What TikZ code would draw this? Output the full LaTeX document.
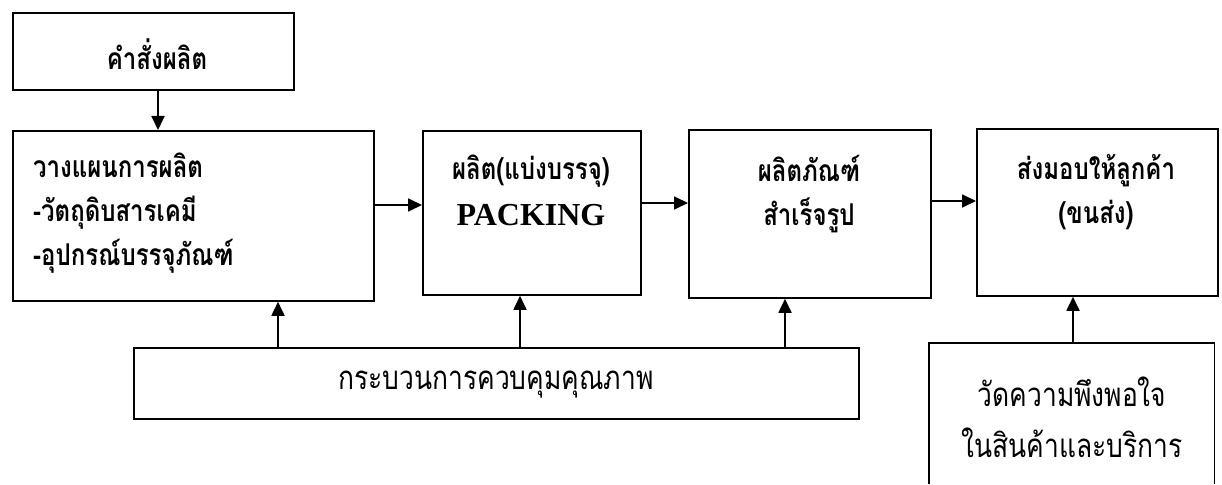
\documentclass[tikz,border=0pt]{standalone}
\usepackage{fontspec}
\newfontfamily\thai[Script=Thai, FakeStretch=0.8]{Loma}
\newfontfamily\tnr{Liberation Serif}
\usetikzlibrary{arrows.meta}
\tikzset{
  box/.style={draw, line width=1.8pt, inner sep=0pt, anchor=north west},
  tb/.style={inner sep=0pt, font=\thai\bfseries\fontsize{30}{44}\selectfont},
  tr/.style={inner sep=0pt, font=\thai\fontsize{33}{51}\selectfont},
  flow/.style={line width=1.8pt, -{Triangle[length=14pt,width=13pt]}},
}
\begin{document}
\begin{tikzpicture}[x=1pt,y=-1pt]
\useasboundingbox (0,0) rectangle (1222,484);
% boxes
\node[box, minimum width=281pt, minimum height=77pt] (order) at (12,12) {};
\node[box, minimum width=361pt, minimum height=170pt] (plan) at (12,130) {};
\node[box, minimum width=218pt, minimum height=164pt] (pack) at (422,130) {};
\node[box, minimum width=242pt, minimum height=168pt] (fin) at (688,129) {};
\node[box, minimum width=241pt, minimum height=167pt] (deliv) at (976,128) {};
\node[box, minimum width=725pt, minimum height=71pt] (qc) at (133,347) {};
\node[inner sep=0pt, minimum width=285pt, minimum height=141pt, anchor=north west] (sat) at (929,343) {};
\draw[line width=1.8pt] (sat.south west) -- (sat.north west) -- (sat.north east) -- (sat.south east);
% texts
\node[tb] (torder) at (157,54) {คำสั่งผลิต};
\node[tb, align=left, anchor=west] (tplan) at (33,213) {วางแผนการผลิต\\-วัตถุดิบสารเคมี\\-อุปกรณ์บรรจุภัณฑ์};
\node[tb, align=center] (tpack) at (531,190) {ผลิต(แบ่งบรรจุ)\\[2pt]{\tnr\bfseries\fontsize{32}{34}\selectfont PACKING}};
\node[tb, align=center] (tfin) at (809,194) {ผลิตภัณฑ์\\สำเร็จรูป};
\node[tb, align=center] (tdeliv) at (1096,192) {ส่งมอบให้ลูกค้า\\(ขนส่ง)};
\node[tr] (tqc) at (496,385) {กระบวนการควบคุมคุณภาพ};
\node[tr, align=center] (tsat) at (1072,417) {วัดความพึงพอใจ\\ในสินค้าและบริการ};
% connectors
\draw[flow] (order.south -| 158,0) -- (plan.north -| 158,0);
\draw[flow] (plan.east |- 0,205) -- (pack.west |- 0,205);
\draw[flow] (pack.east |- 0,203) -- (fin.west |- 0,203);
\draw[flow] (fin.east |- 0,201) -- (deliv.west |- 0,201);
\draw[flow] (qc.north -| 278,0) -- (plan.south -| 278,0);
\draw[flow] (qc.north -| 520,0) -- (pack.south -| 520,0);
\draw[flow] (qc.north -| 785,0) -- (fin.south -| 785,0);
\draw[flow] (sat.north -| 1073,0) -- (deliv.south -| 1073,0);
\end{tikzpicture}
\end{document}
